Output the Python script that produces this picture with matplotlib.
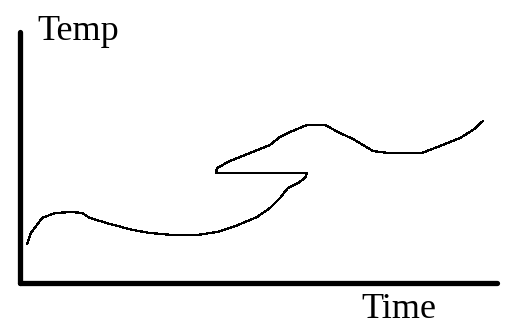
# hand-drawn style temp vs time sketch
import matplotlib
matplotlib.use('Agg')
import matplotlib.pyplot as plt

time = [7, 11, 22, 35, 52, 62, 70, 90, 113, 130, 153, 177, 197, 213, 230, 237,
        250, 260, 268, 278, 285, 287, 196, 197, 210, 230, 250, 260, 270, 287,
        305, 320, 333, 343, 353, 368, 402, 420, 440, 453, 463]
temp = [39, 50, 65, 70, 71, 70, 65, 59, 53, 50, 48, 48, 51, 56, 63, 66,
        75, 85, 95, 100, 105, 110, 110, 115, 122, 130, 138, 146, 151, 158,
        158, 150, 144, 138, 132, 130, 130, 137, 145, 153, 162]

fig = plt.figure(figsize=(5.19, 3.32), dpi=100)
ax = fig.add_axes([20/519, 49/332, 477/519, 251/332])
ax.plot(time, temp, color='black', linewidth=0.9, antialiased=False)
ax.set_xlim(0, 477)
ax.set_ylim(0, 251)
ax.set_xticks([])
ax.set_yticks([])
for s in ['top', 'right']:
    ax.spines[s].set_visible(False)
for s in ['left', 'bottom']:
    ax.spines[s].set_linewidth(3.8)
    ax.spines[s].set_capstyle('round')

fig.text(37/519, 1 - 40/332, 'Temp', family='Liberation Serif', fontsize=26, va='baseline')
fig.text(361/519, 1 - 318/332, 'Time', family='Liberation Serif', fontsize=26, va='baseline')
fig.savefig('out.png', dpi=100)
